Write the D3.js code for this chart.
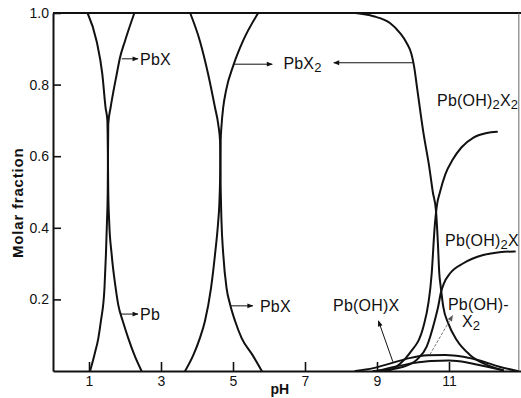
<!DOCTYPE html>
<html><head><meta charset="utf-8">
<script src="https://cdn.jsdelivr.net/npm/d3@7"></script>
<style>
html,body{margin:0;padding:0;background:#fff;}
svg{display:block;font-family:"Liberation Sans",Arial,sans-serif;}
</style></head><body>
<svg id="chart" width="521" height="398"></svg>
<script>
// Tick values
const xTicks = [1, 3, 5, 7, 9, 11];
const yTicks = [0.2, 0.4, 0.6, 0.8, 1.0];

// Species distribution curves, [pH, molar fraction]
const pb = [[0,1],[0.96,1],[1.21,0.922],[1.37,0.829],[1.46,0.736],[1.51,0.70],[1.525,0.6],[1.535,0.5],[1.56,0.419],[1.63,0.325],[1.74,0.232],[1.81,0.186],[1.94,0.139],[2.09,0.092],[2.26,0.045],[2.46,0]];
const pbX = [[1.03,0],[1.15,0.045],[1.26,0.092],[1.33,0.139],[1.43,0.232],[1.47,0.325],[1.50,0.419],[1.52,0.5],[1.535,0.69],[1.60,0.736],[1.68,0.782],[1.77,0.829],[1.86,0.875],[2.0,0.922],[2.26,1],
  [3.81,1],[4.08,0.922],[4.31,0.829],[4.50,0.736],[4.59,0.689],[4.64,0.643],[4.66,0.5],[4.68,0.419],[4.73,0.325],[4.82,0.232],[4.92,0.186],[5.06,0.139],[5.24,0.092],[5.54,0.045],[5.8,0]];
const pbX2 = [[3.67,0],[3.90,0.045],[4.08,0.092],[4.22,0.139],[4.39,0.232],[4.50,0.325],[4.59,0.419],[4.62,0.465],[4.645,0.55],[4.658,0.643],[4.683,0.688],[4.728,0.736],[4.806,0.783],[5.015,0.855],[5.278,0.922],[5.70,1],
  [8.4,1],[8.90,0.991],[9.36,0.972],[9.64,0.944],[9.82,0.917],[9.96,0.884],[10.03,0.851],[10.12,0.786],[10.29,0.665],[10.45,0.571],[10.55,0.50],[10.64,0.446],[10.69,0.36],[10.73,0.273],[10.77,0.236],[10.84,0.18],[10.98,0.133],[11.21,0.087],[11.58,0.045],[12.05,0.017],[12.5,0.002]];
const pbOH2X2 = [[8.9,0],[9.36,0.003],[9.64,0.02],[9.91,0.05],[10.29,0.124],[10.52,0.273],[10.60,0.40],[10.66,0.46],[10.75,0.50],[10.90,0.55],[11.10,0.59],[11.35,0.625],[11.68,0.652],[12.05,0.665],[12.33,0.668]];
const pbOH2X = [[9.0,0],[9.73,0.012],[10.10,0.031],[10.38,0.068],[10.61,0.143],[10.70,0.18],[10.77,0.217],[10.86,0.245],[11.03,0.273],[11.40,0.301],[11.95,0.324],[12.4,0.332],[12.83,0.334]];
const pbOHX = [[8.4,0],[8.9,0.008],[9.4,0.022],[9.9,0.036],[10.4,0.044],[10.9,0.045],[11.4,0.040],[11.9,0.028],[12.4,0.012],[12.9,0]];
const pbOHX2 = [[9.0,0],[9.5,0.012],[10.0,0.022],[10.5,0.028],[11.0,0.029],[11.5,0.024],[12.0,0.013],[12.5,0.002]];

const curves = [pb, pbX, pbX2, pbOH2X2, pbOH2X, pbOHX, pbOHX2];

// Species labels: text ("_n" = subscript), pH, fraction
const labels = [
  ["PbX", 2.42, 0.872],
  ["Pb", 2.42, 0.159],
  ["PbX_2", 6.40, 0.860],
  ["PbX", 5.75, 0.182],
  ["Pb(OH)_2X_2", 10.67, 0.755],
  ["Pb(OH)_2X", 10.89, 0.366],
  ["Pb(OH)X", 7.78, 0.183],
  ["Pb(OH)-", 10.97, 0.187],
  ["X_2", 11.36, 0.138]
];

// Leader arrows: from pH, from fraction, to pH, to fraction
const arrows = [
  [1.91, 0.872, 2.36, 0.872],
  [1.86, 0.159, 2.36, 0.159],
  [5.02, 0.857, 6.09, 0.857],
  [10.0, 0.861, 7.80, 0.861],
  [4.92, 0.182, 5.55, 0.182],
  [9.44, 0.026, 9.04, 0.140]
];
const faintArrows = [
  [10.47, 0.046, 11.10, 0.155]
];

const svg = d3.select("#chart");
const x = d3.scaleLinear().domain([0, 13]).range([53, 521]);
const y = d3.scaleLinear().domain([0, 1]).range([371, 13]);
const ink = "#111";

const defs = svg.append("defs");
[["head", ink], ["headFaint", "#555"]].forEach(([id, c]) => {
  defs.append("marker")
    .attr("id", id).attr("viewBox", "0 0 10 10")
    .attr("refX", 9).attr("refY", 5)
    .attr("markerWidth", 7).attr("markerHeight", 6)
    .attr("markerUnits", "userSpaceOnUse")
    .attr("orient", "auto")
    .append("path").attr("d", "M0,1L10,5L0,9Z").attr("fill", c);
});

// Frame: top and right edges
svg.append("line").attr("x1", x(0)).attr("x2", x(13)).attr("y1", y(1)).attr("y2", y(1))
  .attr("stroke", ink).attr("stroke-width", 2);
svg.append("line").attr("x1", x(12.94)).attr("x2", x(12.94)).attr("y1", y(1)).attr("y2", y(0))
  .attr("stroke", "#666").attr("stroke-width", 1);

// Axes
const yAxis = d3.axisLeft(y).tickValues(yTicks).tickSizeInner(-8).tickSizeOuter(0)
  .tickPadding(4).tickFormat(d3.format(".1f"));
const gy = svg.append("g").attr("transform", `translate(${x(0)},0)`).call(yAxis);
const xAxis = d3.axisBottom(x).tickValues(xTicks).tickSizeInner(-9).tickSizeOuter(0)
  .tickPadding(5).tickFormat(d3.format("d"));
const gx = svg.append("g").attr("transform", `translate(0,${y(0)})`).call(xAxis);
[gx, gy].forEach(g => {
  g.select(".domain").attr("stroke", ink).attr("stroke-width", 2);
  g.selectAll(".tick line").attr("stroke", ink).attr("stroke-width", 1.6);
  g.selectAll(".tick text").attr("fill", ink).attr("font-size", 14)
    .attr("font-family", "Liberation Sans, Arial, sans-serif");
});

// Axis titles
svg.append("text").attr("x", (x(6.0) + x(6.6)) / 2).attr("y", 394)
  .attr("text-anchor", "middle").attr("font-size", 14).attr("font-weight", "bold")
  .attr("fill", ink).text("pH");
svg.append("text").attr("transform", `translate(23,${y(0.47)}) rotate(-90)`)
  .attr("text-anchor", "middle").attr("font-size", 15).attr("font-weight", "bold")
  .attr("letter-spacing", 0.8).attr("fill", ink).text("Molar fraction");

// Split each curve into branches; plateaus at 1 lie on the frame line
function branches(pts) {
  const out = [];
  let cur = [pts[0]];
  for (let i = 1; i < pts.length; i++) {
    const a = pts[i - 1], b = pts[i];
    if (a[1] === 1 && b[1] === 1) {
      if (cur.length > 1) out.push(cur);
      cur = [b];
    } else cur.push(b);
  }
  if (cur.length > 1) out.push(cur);
  return out;
}

const line = d3.line().x(d => x(d[0])).y(d => y(d[1])).curve(d3.curveMonotoneX);
svg.append("g").selectAll("path").data(curves.flatMap(branches)).join("path")
  .attr("d", line).attr("fill", "none").attr("stroke", ink)
  .attr("stroke-width", 2).attr("stroke-linejoin", "round").attr("stroke-linecap", "round");

// Leader arrows
svg.append("g").selectAll("line").data(arrows).join("line")
  .attr("x1", d => x(d[0])).attr("y1", d => y(d[1]))
  .attr("x2", d => x(d[2])).attr("y2", d => y(d[3]))
  .attr("stroke", ink).attr("stroke-width", 1)
  .attr("marker-end", "url(#head)");
svg.append("g").selectAll("line").data(faintArrows).join("line")
  .attr("x1", d => x(d[0])).attr("y1", d => y(d[1]))
  .attr("x2", d => x(d[2])).attr("y2", d => y(d[3]))
  .attr("stroke", "#555").attr("stroke-width", 0.8).attr("stroke-dasharray", "3,1.5")
  .attr("marker-end", "url(#headFaint)");

// Species labels with subscripts
const lg = svg.append("g").attr("fill", ink).attr("font-size", 16).attr("letter-spacing", 0.2);
labels.forEach(([t, px, py]) => {
  const txt = lg.append("text").attr("x", x(px)).attr("y", y(py)).attr("dy", "0.36em");
  let lowered = false;
  t.split(/(_\d)/).filter(s => s.length).forEach(s => {
    if (s[0] === "_") {
      txt.append("tspan").attr("font-size", 13).attr("dy", 3).text(s.slice(1));
      lowered = true;
    } else {
      const ts = txt.append("tspan").text(s);
      if (lowered) { ts.attr("dy", -3); lowered = false; }
    }
  });
});
</script>
</body></html>
